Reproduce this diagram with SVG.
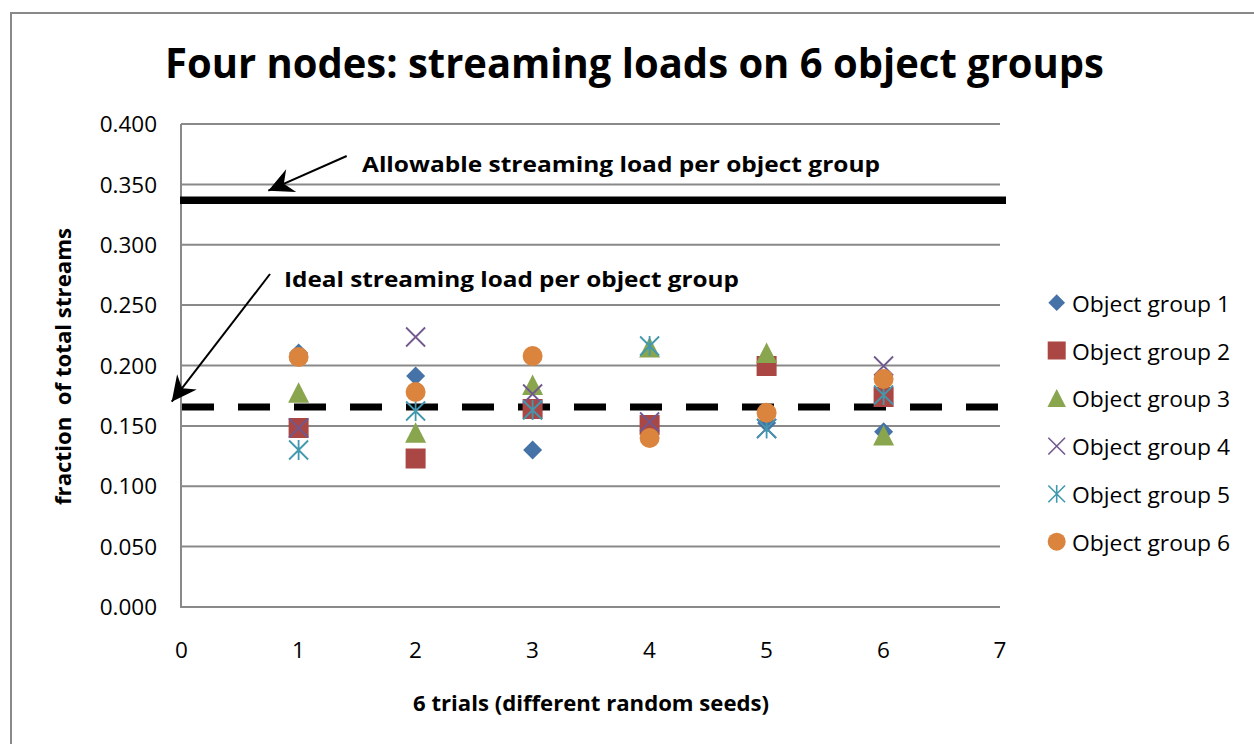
<svg xmlns="http://www.w3.org/2000/svg" width="1254" height="744" viewBox="0 0 1254 744">
<style>
.grid{stroke:#898989;stroke-width:2;fill:none}
.tick{font-family:"Open Sans","Liberation Sans",sans-serif;font-size:22.5px;fill:#000}
.bold{font-family:"Open Sans","Liberation Sans",sans-serif;font-weight:bold;fill:#000}
.g1{fill:#4572A7}
.g2{fill:#AA4643}
.g3{fill:#89A54E}
.g4{stroke:#71588F;stroke-width:1.8;fill:none}
.g5{stroke:#4198AF;stroke-width:1.8;fill:none}
.g6{fill:#DB843D}
.arrow{stroke:#000;stroke-width:2;fill:none;marker-end:url(#ah)}
</style>
<defs>
<marker id="ah" viewBox="-26 -13 27 26" refX="0" refY="0" markerWidth="27" markerHeight="26" markerUnits="userSpaceOnUse" orient="auto">
<path d="M0,0 L-25,-12.4 L-17,0 L-25,12.4 Z" fill="#000"/>
</marker>
<polygon id="m1" points="0,-9.5 9.5,0 0,9.5 -9.5,0"/>
<rect id="m2" x="-10" y="-10" width="20" height="20"/>
<polygon id="m3" points="0,-10.5 10.5,10 -10.5,10"/>
<path id="m4" d="M-9.5,-9.5 L9.5,9.5 M-9.5,9.5 L9.5,-9.5"/>
<path id="m5" d="M-9.5,-9.5 L9.5,9.5 M-9.5,9.5 L9.5,-9.5 M0,-10 L0,10"/>
<circle id="m6" r="10"/>
</defs>
<rect width="1254" height="744" fill="#fff"/>
<path d="M11,744 L11,13 L1254,13" stroke="#898989" stroke-width="2" fill="none"/>
<text class="bold" x="165" y="78" font-size="42" textLength="939" lengthAdjust="spacingAndGlyphs">Four nodes: streaming loads on 6 object groups</text>
<g id="gridlines">
<line class="grid" x1="181" y1="124" x2="1000" y2="124"/>
<line class="grid" x1="181" y1="184.4" x2="1000" y2="184.4"/>
<line class="grid" x1="181" y1="244.75" x2="1000" y2="244.75"/>
<line class="grid" x1="181" y1="305.1" x2="1000" y2="305.1"/>
<line class="grid" x1="181" y1="365.5" x2="1000" y2="365.5"/>
<line class="grid" x1="181" y1="425.9" x2="1000" y2="425.9"/>
<line class="grid" x1="181" y1="486.25" x2="1000" y2="486.25"/>
<line class="grid" x1="181" y1="546.6" x2="1000" y2="546.6"/>
<path class="grid" d="M181,124 L181,607 L1000,607"/>
</g>
<g id="y-ticks" text-anchor="end">
<text class="tick" x="157" y="132.3">0.400</text>
<text class="tick" x="157" y="192.6">0.350</text>
<text class="tick" x="157" y="253">0.300</text>
<text class="tick" x="157" y="313.3">0.250</text>
<text class="tick" x="157" y="373.7">0.200</text>
<text class="tick" x="157" y="434.1">0.150</text>
<text class="tick" x="157" y="494.4">0.100</text>
<text class="tick" x="157" y="554.8">0.050</text>
<text class="tick" x="157" y="615.2">0.000</text>
</g>
<g id="x-ticks" text-anchor="middle">
<text class="tick" x="181.5" y="658">0</text>
<text class="tick" x="298.5" y="658">1</text>
<text class="tick" x="415.5" y="658">2</text>
<text class="tick" x="532.5" y="658">3</text>
<text class="tick" x="649.5" y="658">4</text>
<text class="tick" x="766.5" y="658">5</text>
<text class="tick" x="883.5" y="658">6</text>
<text class="tick" x="1000" y="658">7</text>
</g>
<text class="bold" x="591" y="711" font-size="22" text-anchor="middle" textLength="356" lengthAdjust="spacingAndGlyphs">6 trials (different random seeds)</text>
<text class="bold" transform="translate(70.5,366.5) rotate(-90)" font-size="22" text-anchor="middle" textLength="277" lengthAdjust="spacingAndGlyphs" xml:space="preserve">fraction  of total streams</text>
<g id="ref-lines">
<line x1="180" y1="200.3" x2="1006" y2="200.3" stroke="#000" stroke-width="7.5"/>
<line x1="182" y1="407" x2="998" y2="407" stroke="#000" stroke-width="7" stroke-dasharray="32 24"/>
</g>
<g id="series1" class="g1">
<use href="#m1" x="298.6" y="353"/>
<use href="#m1" x="415.6" y="376"/>
<use href="#m1" x="532.6" y="450"/>
<use href="#m1" x="649.6" y="425"/>
<use href="#m1" x="766.6" y="423"/>
<use href="#m1" x="883.6" y="431.7"/>
</g>
<g id="series2" class="g2">
<use href="#m2" x="298.6" y="428"/>
<use href="#m2" x="415.6" y="458.5"/>
<use href="#m2" x="532.6" y="409"/>
<use href="#m2" x="649.6" y="425"/>
<use href="#m2" x="766.6" y="366"/>
<use href="#m2" x="883.6" y="397"/>
</g>
<g id="series3" class="g3">
<use href="#m3" x="298.6" y="392.7"/>
<use href="#m3" x="415.6" y="432.7"/>
<use href="#m3" x="532.6" y="385"/>
<use href="#m3" x="649.6" y="347.5"/>
<use href="#m3" x="766.6" y="353"/>
<use href="#m3" x="883.6" y="435.5"/>
</g>
<g id="series4" class="g4">
<use href="#m4" x="298.6" y="428"/>
<use href="#m4" x="415.6" y="337"/>
<use href="#m4" x="532.6" y="394"/>
<use href="#m4" x="649.6" y="422"/>
<use href="#m4" x="766.6" y="428.5"/>
<use href="#m4" x="883.6" y="366"/>
</g>
<g id="series5" class="g5">
<use href="#m5" x="298.6" y="450"/>
<use href="#m5" x="415.6" y="411"/>
<use href="#m5" x="532.6" y="410"/>
<use href="#m5" x="649.6" y="346"/>
<use href="#m5" x="766.6" y="428.5"/>
<use href="#m5" x="883.6" y="395"/>
</g>
<g id="series6" class="g6">
<use href="#m6" x="298.6" y="357"/>
<use href="#m6" x="415.6" y="392"/>
<use href="#m6" x="532.6" y="356"/>
<use href="#m6" x="649.6" y="438"/>
<use href="#m6" x="766.6" y="412.7"/>
<use href="#m6" x="883.6" y="379"/>
</g>
<g id="annotation-allowable">
<text class="bold" x="362" y="172.3" font-size="22" textLength="518" lengthAdjust="spacingAndGlyphs">Allowable streaming load per object group</text>
</g>
<g id="annotation-ideal">
<text class="bold" x="284" y="286.7" font-size="22" textLength="455" lengthAdjust="spacingAndGlyphs">Ideal streaming load per object group</text>
</g>
<g id="connectors">
<line class="arrow" x1="346.7" y1="156" x2="268.3" y2="190.7"/>
<line class="arrow" x1="270" y1="274" x2="171.7" y2="401.7"/>
</g>
<g id="legend">
<g id="legend-1"><use href="#m1" class="g1" transform="translate(1056.7,302.7) scale(0.88)"/><text class="tick" x="1072" y="311.7" textLength="158" lengthAdjust="spacingAndGlyphs">Object group 1</text></g>
<g id="legend-2"><use href="#m2" class="g2" transform="translate(1056.7,350.5) scale(0.9)"/><text class="tick" x="1072" y="359.5" textLength="158" lengthAdjust="spacingAndGlyphs">Object group 2</text></g>
<g id="legend-3"><use href="#m3" class="g3" transform="translate(1056.7,398.3) scale(0.88)"/><text class="tick" x="1072" y="407.3" textLength="158" lengthAdjust="spacingAndGlyphs">Object group 3</text></g>
<g id="legend-4"><use href="#m4" class="g4" transform="translate(1056.7,446.1) scale(0.88)"/><text class="tick" x="1072" y="455.1" textLength="158" lengthAdjust="spacingAndGlyphs">Object group 4</text></g>
<g id="legend-5"><use href="#m5" class="g5" transform="translate(1056.7,493.9) scale(0.88)"/><text class="tick" x="1072" y="502.9" textLength="158" lengthAdjust="spacingAndGlyphs">Object group 5</text></g>
<g id="legend-6"><use href="#m6" class="g6" transform="translate(1056.7,541.7) scale(0.9)"/><text class="tick" x="1072" y="550.7" textLength="158" lengthAdjust="spacingAndGlyphs">Object group 6</text></g>
</g>
</svg>
